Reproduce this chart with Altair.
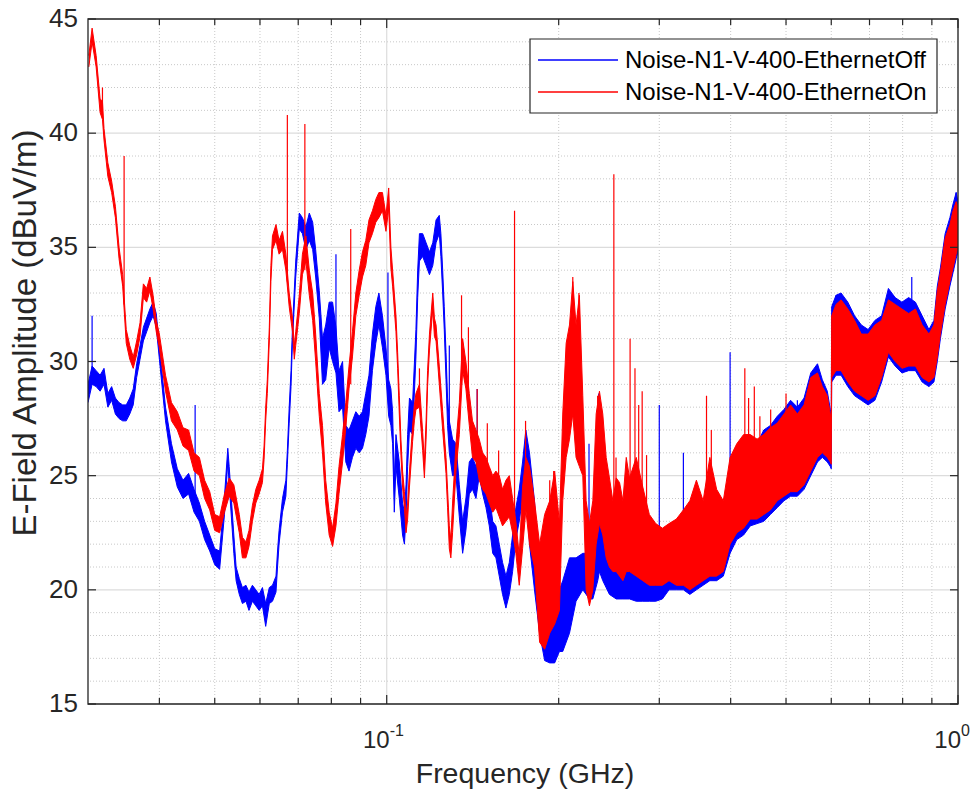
import altair as alt
import pandas as pd

# ---------------- data ----------------
series_names = ["Noise-N1-V-400-EthernetOff", "Noise-N1-V-400-EthernetOn"]
series_colors = ["#0000ff", "#ff0000"]

# Ethernet Off (blue): frequency (GHz), lower and upper edge of the noisy trace (dBuV/m)
off_freq = [
    0.0300, 0.0305, 0.0310, 0.0315, 0.0320, 0.0325, 0.0330, 0.0335, 0.0340, 0.0345,
    0.0350, 0.0355, 0.0360, 0.0365, 0.0370, 0.0375, 0.0380, 0.0385, 0.0390, 0.0395,
    0.0400, 0.0410, 0.0420, 0.0430, 0.0440, 0.0450, 0.0460, 0.0470, 0.0480, 0.0490,
    0.0500, 0.0510, 0.0520, 0.0527, 0.0530, 0.0540, 0.0545, 0.0552, 0.0559, 0.0567,
    0.0574, 0.0582, 0.0590, 0.0598, 0.0606, 0.0614, 0.0623, 0.0631, 0.0640, 0.0644,
    0.0648, 0.0657, 0.0666, 0.0670, 0.0675, 0.0680, 0.0684, 0.0693, 0.0703, 0.0712,
    0.0722, 0.0732, 0.0742, 0.0751, 0.0762, 0.0772, 0.0782, 0.0793, 0.0804, 0.0815,
    0.0825, 0.0837, 0.0848, 0.0859, 0.0871, 0.0883, 0.0895, 0.0907, 0.0919, 0.0931,
    0.0944, 0.0957, 0.0969, 0.0983, 0.0997, 0.1008, 0.1017, 0.1024, 0.1031, 0.1038,
    0.1052, 0.1066, 0.1074, 0.1081, 0.1088, 0.1096, 0.1110, 0.1125, 0.1133, 0.1141,
    0.1156, 0.1172, 0.1188, 0.1204, 0.1220, 0.1236, 0.1244, 0.1253, 0.1261, 0.1270,
    0.1278, 0.1287, 0.1304, 0.1322, 0.1340, 0.1358, 0.1376, 0.1395, 0.1413, 0.1433,
    0.1452, 0.1472, 0.1492, 0.1512, 0.1533, 0.1553, 0.1574, 0.1595, 0.1617, 0.1639,
    0.1661, 0.1683, 0.1706, 0.1729, 0.1752, 0.1778, 0.1814, 0.1852, 0.1890, 0.1929,
    0.1968, 0.2006, 0.2033, 0.2089, 0.2145, 0.2204, 0.2264, 0.2295, 0.2341, 0.2357,
    0.2389, 0.2454, 0.2522, 0.2591, 0.2661, 0.2734, 0.2807, 0.2882, 0.2958, 0.3038,
    0.3120, 0.3214, 0.3306, 0.3393, 0.3484, 0.3580, 0.3678, 0.3780, 0.3883, 0.3991,
    0.4100, 0.4214, 0.4329, 0.4449, 0.4571, 0.4696, 0.4826, 0.4958, 0.5093, 0.5234,
    0.5377, 0.5524, 0.5676, 0.5788, 0.5905, 0.5977, 0.6000, 0.6010, 0.6116, 0.6242,
    0.6414, 0.6592, 0.6773, 0.6961, 0.7154, 0.7350, 0.7554, 0.7762, 0.7976, 0.8197,
    0.8423, 0.8655, 0.8895, 0.9075, 0.9200, 0.9315, 0.9495, 0.9679, 0.9803, 0.9926,
    1.0000,
]
off_low = [
    28.2, 29.0, 28.9, 28.7, 29.0, 28.0, 28.3, 27.7, 27.5, 27.4,
    27.4, 27.7, 28.1, 29.3, 30.1, 30.9, 31.3, 31.7, 32.0, 31.5,
    30.1, 27.4, 25.6, 24.5, 24.0, 24.2, 23.4, 23.0, 22.2, 21.7,
    21.1, 20.9, 23.3, 25.6, 24.6, 21.6, 20.4, 19.8, 19.4, 19.5,
    19.1, 19.5, 19.3, 19.1, 19.3, 18.4, 19.4, 19.5, 19.9, 21.0,
    22.0, 23.4, 24.1, 25.5, 27.3, 28.9, 30.9, 33.7, 35.8, 35.6,
    34.9, 35.3, 34.9, 33.7, 31.9, 29.0, 29.2, 30.6, 30.0, 29.5,
    27.8, 28.0, 25.6, 25.2, 25.8, 26.2, 26.0, 26.2, 26.8, 27.6,
    29.6, 30.8, 31.6, 30.6, 29.4, 27.6, 27.2, 26.4, 23.4, 25.4,
    24.0, 22.4, 22.0, 23.2, 25.4, 27.0, 26.8, 30.2, 32.8, 34.4,
    34.6, 34.2, 33.8, 34.2, 35.2, 35.6, 34.6, 33.0, 31.4, 29.2,
    27.2, 26.0, 25.0, 25.0, 23.2, 21.6, 22.6, 24.2, 24.4, 24.0,
    25.0, 24.2, 23.6, 22.8, 21.6, 21.4, 20.6, 19.8, 19.2, 19.8,
    20.8, 22.2, 23.0, 24.0, 25.6, 22.0, 20.0, 18.1, 16.9, 16.8,
    16.8, 17.3, 17.3, 18.1, 19.5, 20.0, 19.6, 19.6, 20.4, 20.8,
    20.4, 19.8, 19.6, 19.6, 19.6, 19.5, 19.5, 19.5, 19.5, 19.6,
    20.0, 20.0, 20.0, 19.8, 20.0, 20.2, 20.4, 20.4, 20.6, 21.6,
    22.2, 22.4, 22.8, 22.9, 23.0, 23.3, 23.6, 23.9, 24.1, 24.1,
    24.4, 25.0, 25.6, 25.8, 25.6, 25.4, 25.3, 29.1, 29.4, 29.4,
    28.9, 28.5, 28.3, 28.1, 28.3, 29.1, 30.2, 29.8, 29.5, 29.6,
    29.6, 29.1, 28.9, 29.1, 30.0, 31.0, 32.3, 33.3, 33.9, 34.5,
    34.8,
]
off_high = [
    29.0, 29.8, 29.6, 29.4, 29.7, 28.6, 28.9, 28.4, 28.2, 28.1,
    28.1, 28.4, 28.8, 29.9, 30.7, 31.5, 31.9, 32.3, 32.6, 32.1,
    30.7, 28.0, 26.4, 25.3, 24.8, 25.1, 24.4, 23.8, 23.0, 22.4,
    21.8, 21.7, 24.1, 26.2, 25.4, 22.4, 21.0, 20.5, 20.1, 20.2,
    19.9, 20.2, 20.0, 19.8, 20.1, 19.4, 20.1, 20.2, 20.6, 21.7,
    22.6, 24.0, 24.8, 26.1, 28.0, 29.6, 31.5, 34.4, 36.5, 36.3,
    35.9, 36.5, 36.1, 34.9, 33.1, 31.0, 31.6, 32.6, 32.6, 31.5,
    29.6, 30.0, 27.2, 27.0, 27.4, 27.8, 27.6, 27.8, 28.6, 29.4,
    31.2, 32.4, 33.0, 32.0, 30.6, 29.2, 28.8, 27.8, 24.8, 26.8,
    25.6, 23.8, 23.4, 24.6, 26.8, 28.4, 28.2, 31.4, 34.0, 35.6,
    35.6, 35.2, 34.8, 35.2, 36.2, 36.4, 35.6, 34.0, 32.4, 30.4,
    28.4, 27.4, 26.6, 26.4, 24.6, 23.0, 24.0, 25.6, 25.8, 25.4,
    26.4, 25.6, 25.2, 24.2, 23.0, 22.8, 22.0, 21.2, 20.6, 21.2,
    22.4, 23.6, 24.4, 25.6, 27.0, 26.0, 23.9, 20.6, 19.1, 19.1,
    19.5, 20.0, 20.4, 21.4, 21.4, 21.6, 21.6, 22.0, 25.0, 26.0,
    23.9, 22.0, 21.6, 21.6, 21.2, 21.2, 21.2, 21.4, 21.4, 22.0,
    22.4, 22.9, 23.0, 23.0, 23.2, 23.4, 23.9, 23.6, 23.6, 25.2,
    25.8, 26.2, 26.6, 26.4, 27.0, 27.2, 27.6, 27.9, 28.3, 28.0,
    28.4, 29.5, 29.9, 29.2, 28.7, 27.9, 27.7, 32.4, 32.9, 33.0,
    32.6, 32.0, 31.6, 31.4, 31.8, 32.0, 33.2, 32.8, 32.6, 32.8,
    32.6, 32.0, 31.4, 31.8, 33.3, 34.1, 35.6, 36.3, 36.9, 37.4,
    37.0,
]

# Ethernet On (red)
on_freq = [
    0.0301, 0.0305, 0.0310, 0.0315, 0.0318, 0.0320, 0.0325, 0.0330, 0.0335, 0.0340,
    0.0345, 0.0350, 0.0355, 0.0360, 0.0365, 0.0370, 0.0375, 0.0380, 0.0385, 0.0390,
    0.0395, 0.0400, 0.0410, 0.0420, 0.0430, 0.0440, 0.0450, 0.0460, 0.0470, 0.0480,
    0.0490, 0.0500, 0.0510, 0.0520, 0.0530, 0.0540, 0.0552, 0.0559, 0.0567, 0.0574,
    0.0582, 0.0590, 0.0598, 0.0606, 0.0610, 0.0614, 0.0618, 0.0623, 0.0627, 0.0631,
    0.0640, 0.0648, 0.0657, 0.0666, 0.0675, 0.0684, 0.0689, 0.0693, 0.0703, 0.0712,
    0.0722, 0.0732, 0.0742, 0.0751, 0.0762, 0.0772, 0.0782, 0.0793, 0.0804, 0.0815,
    0.0825, 0.0837, 0.0848, 0.0859, 0.0871, 0.0883, 0.0895, 0.0907, 0.0919, 0.0931,
    0.0944, 0.0957, 0.0969, 0.0983, 0.0997, 0.1008, 0.1017, 0.1024, 0.1038, 0.1045,
    0.1052, 0.1059, 0.1066, 0.1074, 0.1081, 0.1088, 0.1096, 0.1110, 0.1118, 0.1125,
    0.1141, 0.1156, 0.1164, 0.1172, 0.1179, 0.1188, 0.1195, 0.1204, 0.1212, 0.1220,
    0.1236, 0.1253, 0.1270, 0.1278, 0.1287, 0.1295, 0.1304, 0.1322, 0.1340, 0.1358,
    0.1376, 0.1395, 0.1413, 0.1433, 0.1452, 0.1472, 0.1492, 0.1512, 0.1533, 0.1553,
    0.1574, 0.1595, 0.1617, 0.1639, 0.1661, 0.1683, 0.1706, 0.1729, 0.1752, 0.1778,
    0.1814, 0.1852, 0.1890, 0.1929, 0.1968, 0.2006, 0.2033, 0.2061, 0.2089, 0.2117,
    0.2145, 0.2174, 0.2204, 0.2234, 0.2264, 0.2295, 0.2326, 0.2357, 0.2389, 0.2422,
    0.2454, 0.2488, 0.2522, 0.2556, 0.2591, 0.2626, 0.2661, 0.2734, 0.2807, 0.2882,
    0.2958, 0.3038, 0.3120, 0.3214, 0.3306, 0.3393, 0.3484, 0.3580, 0.3678, 0.3780,
    0.3883, 0.3991, 0.4100, 0.4214, 0.4329, 0.4449, 0.4571, 0.4696, 0.4826, 0.4958,
    0.5093, 0.5234, 0.5377, 0.5524, 0.5676, 0.5788, 0.5905, 0.5977, 0.6000, 0.6010,
    0.6116, 0.6242, 0.6414, 0.6592, 0.6773, 0.6961, 0.7154, 0.7350, 0.7554, 0.7762,
    0.7976, 0.8197, 0.8423, 0.8655, 0.8895, 0.9075, 0.9200, 0.9315, 0.9495, 0.9679,
    0.9803, 0.9926, 1.0000,
]
on_low = [
    42.9, 44.0, 42.9, 40.9, 40.6, 39.7, 38.1, 37.4, 36.3, 34.5,
    33.3, 30.8, 30.1, 29.7, 30.3, 31.1, 32.8, 32.6, 33.1, 32.3,
    31.3, 30.6, 28.7, 27.4, 27.0, 26.3, 26.1, 25.2, 25.0, 24.0,
    23.5, 22.6, 22.5, 23.4, 24.1, 23.8, 22.5, 21.4, 21.4, 21.9,
    23.0, 23.8, 24.2, 24.7, 25.7, 27.4, 28.6, 30.9, 33.5, 34.9,
    35.3, 34.7, 34.9, 34.0, 32.4, 31.3, 30.1, 30.7, 32.1, 33.8,
    34.4, 32.9, 31.8, 30.0, 27.6, 26.0, 23.8, 22.4, 21.9, 22.8,
    24.2, 25.6, 27.1, 28.8, 30.2, 32.0, 32.9, 33.7, 34.2, 35.2,
    35.6, 36.1, 36.3, 36.6, 35.7, 36.7, 34.1, 33.3, 31.3, 29.7,
    27.7, 25.9, 24.5, 23.6, 22.5, 23.1, 24.5, 26.5, 27.4, 27.9,
    28.0, 26.1, 24.9, 26.6, 28.9, 30.5, 31.3, 32.3, 31.1, 30.9,
    29.0, 27.0, 25.1, 23.6, 21.8, 21.4, 22.5, 25.2, 26.8, 29.6,
    28.8, 27.2, 25.8, 25.6, 24.8, 24.4, 24.2, 23.8, 23.4, 23.6,
    23.2, 22.8, 23.0, 23.2, 22.5, 21.6, 20.2, 21.8, 23.5, 22.0,
    21.0, 17.7, 17.4, 18.1, 18.5, 19.1, 23.9, 25.8, 26.6, 27.7,
    25.8, 25.4, 25.0, 20.0, 19.3, 20.0, 22.0, 22.9, 22.4, 21.4,
    21.0, 20.8, 20.8, 20.6, 20.4, 20.8, 20.8, 20.6, 20.4, 20.2,
    20.2, 20.2, 20.4, 20.2, 20.2, 20.0, 20.2, 20.4, 20.6, 20.6,
    20.8, 22.0, 22.5, 22.7, 23.1, 23.1, 23.3, 23.5, 23.9, 24.1,
    24.3, 24.3, 24.6, 25.2, 25.8, 26.0, 25.8, 25.6, 25.5, 29.3,
    29.6, 29.6, 29.1, 28.7, 28.5, 28.3, 28.5, 29.3, 30.4, 30.0,
    29.7, 29.8, 29.8, 29.3, 29.1, 29.3, 30.2, 31.2, 32.5, 33.5,
    34.1, 34.7, 35.0,
]
on_high = [
    43.4, 44.6, 43.4, 41.5, 41.4, 40.2, 38.7, 37.9, 36.8, 35.0,
    33.8, 31.4, 30.7, 30.2, 30.9, 31.7, 33.4, 33.2, 33.7, 32.9,
    31.8, 31.2, 29.4, 28.2, 27.8, 27.1, 27.0, 26.0, 25.8, 24.8,
    24.3, 23.3, 23.2, 24.2, 24.9, 24.6, 23.3, 22.3, 22.1, 22.6,
    23.7, 24.4, 24.8, 25.3, 26.3, 28.0, 29.2, 31.5, 34.2, 35.5,
    36.0, 35.3, 35.7, 34.7, 33.0, 31.9, 30.7, 31.3, 32.9, 34.7,
    35.5, 34.0, 33.0, 31.2, 28.6, 27.2, 24.8, 23.4, 22.7, 23.8,
    25.4, 26.8, 28.2, 29.8, 31.3, 33.0, 34.0, 34.8, 35.3, 36.2,
    36.6, 37.1, 37.4, 37.4, 36.4, 37.6, 35.0, 34.0, 32.0, 30.4,
    28.5, 26.6, 25.2, 24.3, 23.2, 23.8, 25.2, 27.2, 28.1, 28.6,
    29.0, 26.9, 25.6, 27.4, 29.6, 31.2, 32.0, 33.0, 31.9, 31.6,
    29.8, 27.8, 25.8, 24.4, 22.8, 22.2, 23.8, 26.4, 28.2, 31.0,
    30.0, 28.6, 27.4, 27.0, 26.6, 26.0, 25.8, 25.4, 25.0, 25.2,
    25.0, 24.4, 24.8, 25.0, 24.0, 23.0, 21.5, 24.5, 25.8, 25.4,
    23.9, 22.0, 23.3, 23.9, 25.2, 22.9, 27.7, 30.8, 31.6, 33.5,
    31.6, 32.9, 28.5, 23.9, 22.9, 23.9, 27.7, 28.7, 27.7, 25.8,
    24.9, 23.9, 24.9, 24.7, 23.9, 25.8, 24.9, 25.8, 24.5, 23.3,
    22.9, 22.7, 22.9, 23.1, 23.5, 23.9, 24.8, 23.9, 25.8, 24.4,
    23.9, 25.8, 26.4, 26.8, 26.8, 26.6, 26.8, 27.1, 27.3, 27.7,
    28.1, 27.7, 28.1, 29.3, 29.5, 28.9, 28.5, 27.7, 27.5, 32.0,
    32.5, 32.7, 32.3, 31.8, 31.2, 31.2, 31.6, 31.8, 32.7, 32.5,
    32.3, 32.1, 32.3, 31.6, 31.2, 31.6, 33.1, 33.9, 35.4, 36.0,
    36.6, 37.0, 36.8,
]

# isolated narrow spikes: frequency, foot and tip (dBuV/m)
off_spike_freq = [0.0305, 0.0462, 0.0815, 0.1005, 0.1287, 0.1440, 0.2260, 0.2350,
                  0.3000, 0.3306, 0.3991, 0.5234, 0.5380, 0.6116, 0.8300, 0.9926]
off_spike_base = [29.4, 23.8, 30.5, 28.4, 26.6, 25.0, 20.6, 21.0,
                  20.4, 21.5, 23.4, 26.0, 26.2, 31.0, 31.2, 36.0]
off_spike_top = [32.0, 28.1, 34.7, 33.9, 30.7, 28.8, 26.4, 28.6,
                 28.1, 26.0, 30.4, 28.3, 28.1, 32.9, 33.7, 37.4]

on_spike_freq = [0.0318, 0.0347, 0.0670, 0.0719, 0.0865, 0.1141, 0.1352, 0.1390,
                 0.1440, 0.1500, 0.1570, 0.1674, 0.1750, 0.1929, 0.1960, 0.2117,
                 0.2170, 0.2340, 0.2498, 0.2520, 0.2667, 0.2720, 0.2761, 0.2800,
                 0.2850, 0.3629, 0.3700, 0.4235, 0.4300, 0.4400, 0.4500, 0.4700,
                 0.4830, 0.5000]
on_spike_base = [41.0, 32.5, 33.5, 34.0, 29.0, 28.5, 29.0, 28.0,
                 25.5, 25.0, 24.5, 23.0, 24.5, 20.0, 20.0, 30.0,
                 28.0, 24.0, 22.5, 22.0, 22.5, 22.5, 22.5, 22.0,
                 22.0, 22.5, 22.5, 24.5, 24.5, 24.8, 24.8, 25.0,
                 25.0, 25.5]
on_spike_top = [42.0, 39.0, 40.8, 40.4, 35.8, 29.7, 32.9, 31.5,
                28.8, 27.3, 26.1, 36.6, 27.4, 24.8, 25.2, 33.7,
                33.0, 28.5, 38.2, 25.8, 31.0, 29.7, 28.1, 28.7,
                25.9, 28.5, 27.0, 29.7, 28.4, 28.9, 27.6, 27.9,
                27.3, 28.6]

# axes
x_major = [0.1, 1.0]
x_minor = [0.04, 0.05, 0.06, 0.07, 0.08, 0.09, 0.2, 0.3, 0.4, 0.5, 0.6, 0.7, 0.8, 0.9]
x_label_base = ["10", "10"]
x_label_exp = ["-1", "0"]
y_major = [15, 20, 25, 30, 35, 40, 45]
y_minor = [16, 17, 18, 19, 21, 22, 23, 24, 26, 27, 28, 29, 31, 32, 33, 34,
           36, 37, 38, 39, 41, 42, 43, 44]
x_title = "Frequency (GHz)"
y_title = "E-Field Amplitude (dBuV/m)"

# ---------------- styling ----------------
W, H = 870, 685
FONT = "Liberation Sans"
AX = "#262626"
GRID_MAJOR = "#dcdcdc"
GRID_MINOR = "#c8c8c8"

xs = alt.Scale(type="log", domain=[0.03, 1.0], nice=False)
ys = alt.Scale(domain=[15, 45], nice=False, zero=False)


def X(field):
    return alt.X(field, scale=xs, axis=None)


def Y(field):
    return alt.Y(field, scale=ys, axis=None)


def trace_layers(freq, low, high, sp_f, sp_b, sp_t, color):
    band = pd.DataFrame({"f": freq, "lo": low, "hi": high})
    spikes = pd.DataFrame({"f": sp_f, "b": sp_b, "t": sp_t})
    b = alt.Chart(band)
    area = b.mark_area(color=color, opacity=1, clip=True).encode(
        x=X("f:Q"), y=Y("lo:Q"), y2="hi:Q")
    lo_line = b.mark_line(color=color, strokeWidth=1, clip=True).encode(
        x=X("f:Q"), y=Y("lo:Q"))
    hi_line = b.mark_line(color=color, strokeWidth=1, clip=True).encode(
        x=X("f:Q"), y=Y("hi:Q"))
    sp = alt.Chart(spikes).mark_rule(color=color, strokeWidth=1.2, clip=True).encode(
        x=X("f:Q"), y=Y("b:Q"), y2="t:Q")
    return [area, lo_line, hi_line, sp]


ymaj_df = pd.DataFrame({"v": y_major})
ymin_df = pd.DataFrame({"v": y_minor})
xmaj_df = pd.DataFrame({"v": x_major, "base": x_label_base, "exp": x_label_exp})
xmin_df = pd.DataFrame({"v": x_minor})

# grid
grid_y_minor = alt.Chart(ymin_df).mark_rule(
    color=GRID_MINOR, strokeWidth=1, strokeDash=[1, 2]).encode(y=Y("v:Q"))
grid_x_minor = alt.Chart(xmin_df).mark_rule(
    color=GRID_MINOR, strokeWidth=1, strokeDash=[1, 2]).encode(x=X("v:Q"))
grid_y_major = alt.Chart(ymaj_df).mark_rule(
    color=GRID_MAJOR, strokeWidth=1.2).encode(y=Y("v:Q"))
grid_x_major = alt.Chart(xmaj_df).mark_rule(
    color=GRID_MAJOR, strokeWidth=1.2).encode(x=X("v:Q"))

# inward ticks on all four sides
tick_left = alt.Chart(ymaj_df).mark_rule(color=AX, strokeWidth=1.2).encode(
    y=Y("v:Q"), x=alt.value(0), x2=alt.value(8))
tick_right = alt.Chart(ymaj_df).mark_rule(color=AX, strokeWidth=1.2).encode(
    y=Y("v:Q"), x=alt.value(W - 8), x2=alt.value(W))
tick_bottom_major = alt.Chart(xmaj_df).mark_rule(color=AX, strokeWidth=1.2).encode(
    x=X("v:Q"), y=alt.value(H - 9), y2=alt.value(H))
tick_bottom_minor = alt.Chart(xmin_df).mark_rule(color=AX, strokeWidth=1.2).encode(
    x=X("v:Q"), y=alt.value(H - 6), y2=alt.value(H))
tick_top_major = alt.Chart(xmaj_df).mark_rule(color=AX, strokeWidth=1.2).encode(
    x=X("v:Q"), y=alt.value(0), y2=alt.value(9))
tick_top_minor = alt.Chart(xmin_df).mark_rule(color=AX, strokeWidth=1.2).encode(
    x=X("v:Q"), y=alt.value(0), y2=alt.value(6))

# tick labels
ylab = alt.Chart(ymaj_df).mark_text(
    font=FONT, fontSize=26, color=AX, align="right", baseline="middle"
).encode(y=Y("v:Q"), x=alt.value(-10), text=alt.Text("v:Q", format="d"))
xlab_base = alt.Chart(xmaj_df).mark_text(
    font=FONT, fontSize=24, color=AX, align="right", baseline="alphabetic", dx=3
).encode(x=X("v:Q"), y=alt.value(H + 44), text="base:N")
xlab_exp = alt.Chart(xmaj_df).mark_text(
    font=FONT, fontSize=16, color=AX, align="left", baseline="alphabetic", dx=3
).encode(x=X("v:Q"), y=alt.value(H + 32), text="exp:N")

# axis titles
one = pd.DataFrame({"k": [0]})
xtitle = alt.Chart(one).mark_text(
    font=FONT, fontSize=28.5, color=AX, align="center", baseline="alphabetic",
    text=x_title,
).encode(x=alt.value(W / 2 + 2), y=alt.value(H + 79))
ytitle = alt.Chart(one).mark_text(
    font=FONT, fontSize=33, color=AX, align="center", baseline="middle",
    angle=270, text=y_title,
).encode(x=alt.value(-62), y=alt.value(314))

# frame
frame = alt.Chart(one).mark_rect(
    filled=False, color=AX, strokeWidth=1.3
).encode(x=alt.value(0), x2=alt.value(W), y=alt.value(0), y2=alt.value(H))

# legend (drawn by hand, MATLAB style)
legend_box = alt.Chart(one).mark_rect(
    fill="white", stroke=AX, strokeWidth=1.2
).encode(x=alt.value(442), x2=alt.value(849), y=alt.value(20), y2=alt.value(94))
legend_items = []
for i, (name, col) in enumerate(zip(series_names, series_colors)):
    yrow = 41 + 32 * i
    d = pd.DataFrame({"name": [name]})
    legend_items.append(
        alt.Chart(d).mark_rule(color=col, strokeWidth=1.5).encode(
            x=alt.value(450), x2=alt.value(530), y=alt.value(yrow))
    )
    legend_items.append(
        alt.Chart(d).mark_text(
            font=FONT, fontSize=24, color="#000000", align="left", baseline="middle"
        ).encode(x=alt.value(537), y=alt.value(yrow + 1), text="name:N")
    )

layers = [grid_y_minor, grid_x_minor, grid_y_major, grid_x_major]
layers += trace_layers(off_freq, off_low, off_high, off_spike_freq, off_spike_base,
                       off_spike_top, series_colors[0])
layers += trace_layers(on_freq, on_low, on_high, on_spike_freq, on_spike_base,
                       on_spike_top, series_colors[1])
layers += [tick_left, tick_right, tick_bottom_major, tick_bottom_minor,
           tick_top_major, tick_top_minor, ylab, xlab_base, xlab_exp,
           xtitle, ytitle, frame, legend_box]
layers += legend_items

chart = alt.layer(*layers).properties(
    width=W,
    height=H,
    padding={"left": 88, "top": 19, "right": 21, "bottom": 95},
    autosize=alt.AutoSizeParams(type="none"),
    background="white",
).configure_view(stroke=None)

chart.save("out.html", embed_options={"renderer": "svg", "actions": False})
